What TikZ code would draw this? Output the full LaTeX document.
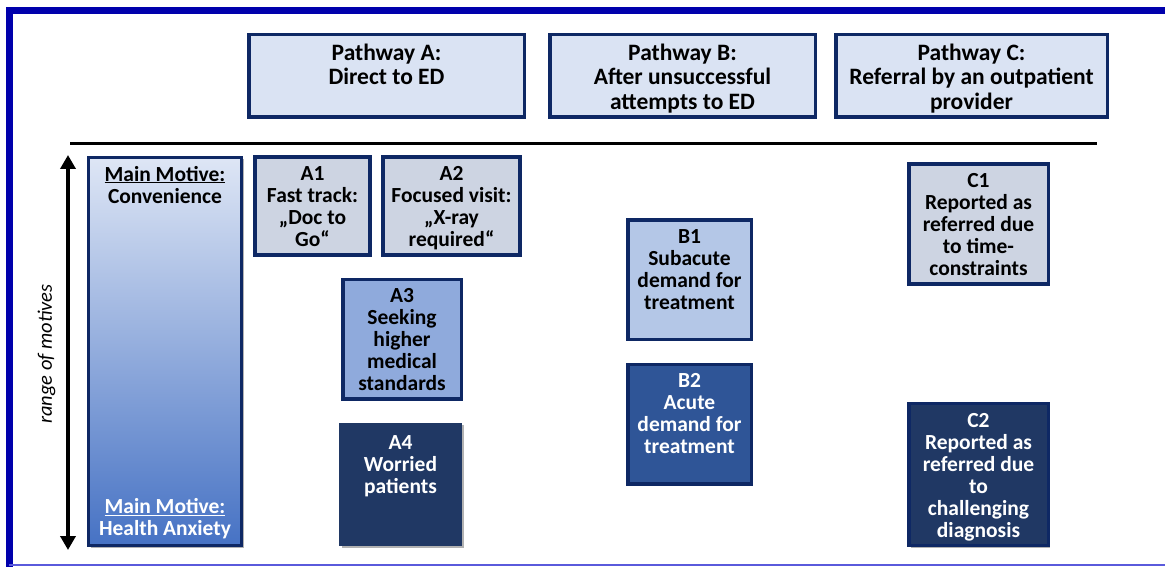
\documentclass[tikz,border=0pt]{standalone}
\usepackage{fontspec}
\setmainfont{Carlito}
\usetikzlibrary{arrows.meta,shadows}
\definecolor{navy}{RGB}{14,40,100}
\definecolor{frameblue}{RGB}{0,0,172}
\definecolor{framelight}{RGB}{90,90,220}
\definecolor{pathfill}{RGB}{218,227,243}
\definecolor{grayfill}{RGB}{205,212,226}
\definecolor{midfill}{RGB}{143,170,220}
\definecolor{lightfill}{RGB}{180,199,231}
\definecolor{bluefill}{RGB}{47,85,151}
\definecolor{darkfill}{RGB}{32,56,100}
\definecolor{gradtop}{RGB}{222,230,245}
\definecolor{gradbot}{RGB}{70,114,196}
\begin{document}
\begin{tikzpicture}[x=1pt,y=-1pt,
  box/.style={draw=navy,line width=3.5pt,inner sep=0pt,
    drop shadow={shadow xshift=2pt,shadow yshift=-2pt,opacity=0.3,fill=black}},
  txt/.style={font=\bfseries\fontsize{21.5}{22}\selectfont,align=center,inner sep=0pt,anchor=north,
    execute at begin node=\strut},
  htxt/.style={txt,font=\bfseries\fontsize{23.5}{24.5}\selectfont},
  wtxt/.style={txt,text=white}]
\useasboundingbox (0,0) rectangle (1165,567);
\fill[white] (0,0) rectangle (1165,567);
% outer frame
\draw[frameblue,line width=7pt] (9,567) -- (9,11) -- (1165,11);
\draw[framelight,line width=1.5pt] (9,565) -- (1165,565);
% pathway headers
\node[box,fill=pathfill,minimum width=275.5pt,minimum height=82.5pt] (pA) at (386.5,76) {};
\node[box,fill=pathfill,minimum width=265.5pt,minimum height=82.5pt] (pB) at (682.5,76) {};
\node[box,fill=pathfill,minimum width=271.5pt,minimum height=82.5pt] (pC) at (971.5,76) {};
\node[htxt] (tA) at ([yshift=-10.5pt]pA.north) {Pathway A:\\Direct to ED};
\node[htxt] (tB) at ([yshift=-10.5pt]pB.north) {Pathway B:\\After unsuccessful\\attempts to ED};
\node[htxt] (tC) at ([yshift=-10.5pt]pC.north) {Pathway C:\\Referral by an outpatient\\provider};
% separator
\coordinate (s1) at (70,143.5);
\coordinate (s2) at (1097,143.5);
\draw[line width=3.5pt] (s1) -- (s2);
% range arrow
\coordinate (r1) at (68,155);
\coordinate (r2) at (68,550);
\draw[line width=4pt,{Triangle[width=15pt,length=14pt]}-{Triangle[width=15pt,length=14pt]}] (r1) -- (r2);
\node[font=\itshape\fontsize{20.5}{22}\selectfont,rotate=90,inner sep=0pt] (range) at (46.5,354) {range of motives};
% main motive
\node[box,top color=gradtop,bottom color=gradbot,minimum width=153pt,minimum height=388pt] (mm) at (165,351.5) {};
\node[txt] (mmt) at ([yshift=-10pt]mm.north) {\underline{Main Motive:}\\Convenience};
\node[wtxt,anchor=base] (mmb) at ([yshift=12pt]mm.south) {\underline{Main Motive:}\\Health Anxiety};
% pathway A boxes
\node[box,fill=grayfill,minimum width=115pt,minimum height=98pt] (A1) at (312.5,206) {};
\node[txt] (A1t) at ([yshift=-11pt]A1.north) {A1\\Fast track:\\„Doc to\\Go“};
\node[box,fill=grayfill,minimum width=137pt,minimum height=98pt] (A2) at (451.5,206) {};
\node[txt] (A2t) at ([yshift=-11pt]A2.north) {A2\\Focused visit:\\„X-ray\\required“};
\node[box,fill=midfill,minimum width=118.5pt,minimum height=119.5pt] (A3) at (402,339) {};
\node[txt] (A3t) at ([yshift=-11pt]A3.north) {A3\\Seeking\\higher\\medical\\standards};
\node[box,draw=darkfill,line width=1pt,fill=darkfill,minimum width=122pt,minimum height=122.5pt] (A4) at (400.5,484.5) {};
\node[wtxt] (A4t) at ([yshift=-13pt]A4.north) {A4\\Worried\\patients};
% pathway B boxes
\node[box,fill=lightfill,minimum width=123.5pt,minimum height=119.5pt] (B1) at (689.5,279.5) {};
\node[txt] (B1t) at ([yshift=-11pt]B1.north) {B1\\Subacute\\demand for\\treatment};
\node[box,fill=bluefill,minimum width=123.5pt,minimum height=119.5pt] (B2) at (689.5,424) {};
\node[wtxt] (B2t) at ([yshift=-11pt]B2.north) {B2\\Acute\\demand for\\treatment};
% pathway C boxes
\node[box,fill=grayfill,minimum width=139.5pt,minimum height=119.5pt] (C1) at (978.5,224) {};
\node[txt] (C1t) at ([yshift=-11pt]C1.north) {C1\\Reported as\\referred due\\to time-\\constraints};
\node[box,fill=darkfill,minimum width=139.5pt,minimum height=142pt] (C2) at (978.5,474.5) {};
\node[wtxt] (C2t) at ([yshift=-11pt]C2.north) {C2\\Reported as\\referred due\\to\\challenging\\diagnosis};
\end{tikzpicture}
\end{document}
